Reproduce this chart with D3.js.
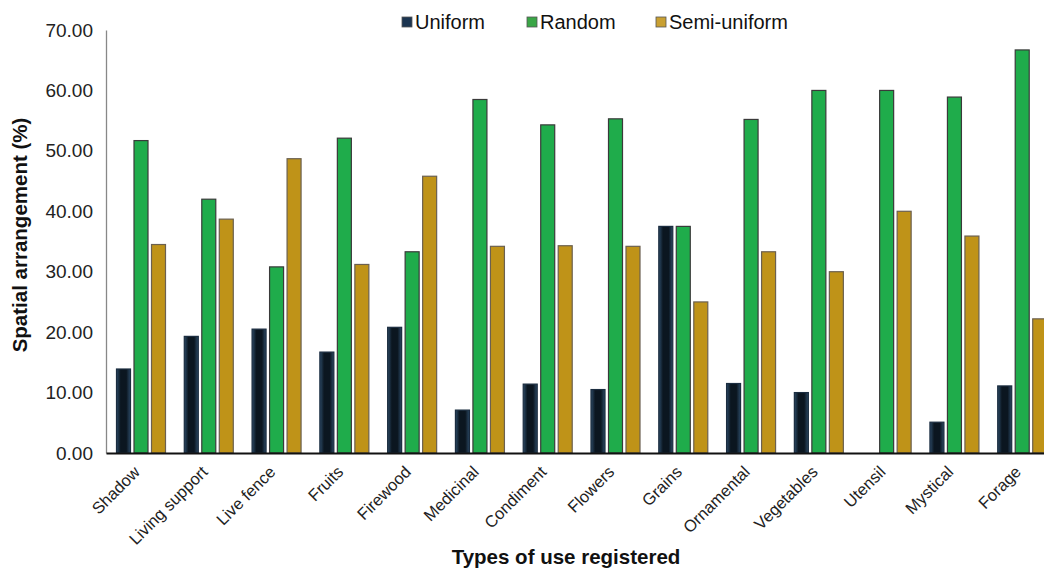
<!DOCTYPE html>
<html>
<head>
<meta charset="utf-8"/>
<script src="https://cdn.jsdelivr.net/npm/d3@7"></script>
<style>
  body { margin: 0; background: #fff; }
  text { font-family: "Liberation Sans", Arial, sans-serif; }
</style>
</head>
<body>
<div id="chart"></div>
<script>
var categories = ["Shadow", "Living support", "Live fence", "Fruits", "Firewood", "Medicinal",
  "Condiment", "Flowers", "Grains", "Ornamental", "Vegetables", "Utensil", "Mystical", "Forage"];
var seriesNames = ["Uniform", "Random", "Semi-uniform"];
var uniform = [13.9, 19.3, 20.5, 16.7, 20.8, 7.1, 11.4, 10.5, 37.5, 11.5, 10.0, 0, 5.1, 11.1];
var random = [51.7, 42.0, 30.8, 52.1, 33.3, 58.5, 54.3, 55.3, 37.5, 55.2, 60.0, 60.0, 58.9, 66.7];
var semiUniform = [34.5, 38.7, 48.7, 31.2, 45.8, 34.2, 34.3, 34.2, 25.0, 33.3, 30.0, 40.0, 35.9, 22.2];
var yTicks = [0, 10, 20, 30, 40, 50, 60, 70];

var w = 1044, h = 570;
var plotLeft = 106, plotRight = 1055, plotTop = 30, plotBottom = 453;

var svg = d3.select("#chart").append("svg").attr("width", w).attr("height", h);

// gradient for the dark bars
var defs = svg.append("defs");
var g1 = defs.append("linearGradient").attr("id", "darkGrad").attr("x1", "0").attr("x2", "1").attr("y1", "0").attr("y2", "0");
g1.append("stop").attr("offset", "0%").attr("stop-color", "#2c4a66");
g1.append("stop").attr("offset", "30%").attr("stop-color", "#0b1620");
g1.append("stop").attr("offset", "70%").attr("stop-color", "#0b1620");
g1.append("stop").attr("offset", "100%").attr("stop-color", "#2c4a66");

var fills = ["url(#darkGrad)", "#1fac4b", "#bf9318"];
var strokes = ["#1b2d40", "#3a3a3a", "#6b6050"];
var legendFills = ["#1b3450", "#3aa646", "#c9a032"];

var x0 = d3.scaleBand().domain(categories).range([plotLeft, plotRight]).paddingInner(0).paddingOuter(0);
var x1 = d3.scaleBand().domain(seriesNames).range([10.5, 10.5 + 49]).paddingInner(0.2);
var y = d3.scaleLinear().domain([0, 70]).range([plotBottom, plotTop]);

var rows = categories.map(function(c, i) {
  return { cat: c, vals: [uniform[i], random[i], semiUniform[i]] };
});

// y axis
var yAxis = svg.append("g").attr("transform", "translate(" + plotLeft + ",0)")
  .call(d3.axisLeft(y).tickValues(yTicks).tickSize(0).tickPadding(13).tickFormat(d3.format(".2f")));
yAxis.select(".domain").attr("stroke", "#888").attr("stroke-width", 1.3);
yAxis.selectAll("text").attr("font-size", 19).attr("fill", "#222").attr("font-family", "Liberation Sans, Arial, sans-serif");

// bars
var groups = svg.selectAll(".grp").data(rows).enter().append("g")
  .attr("transform", function(d) { return "translate(" + x0(d.cat) + ",0)"; });
groups.selectAll("rect").data(function(d) { return d.vals.map(function(v, k) { return { v: v, k: k }; }); })
  .enter().filter(function(d) { return d.v > 0; }).append("rect")
  .attr("x", function(d) { return x1(seriesNames[d.k]); })
  .attr("width", x1.bandwidth())
  .attr("y", function(d) { return y(d.v); })
  .attr("height", function(d) { return plotBottom - y(d.v); })
  .attr("fill", function(d) { return fills[d.k]; })
  .attr("stroke", function(d) { return strokes[d.k]; })
  .attr("stroke-width", 1.2);

// x axis
var xAxis = svg.append("g").attr("transform", "translate(0," + plotBottom + ")")
  .call(d3.axisBottom(x0).tickSize(0));
xAxis.select(".domain").attr("stroke", "#111").attr("stroke-width", 2);
xAxis.selectAll("text")
  .attr("font-size", 16.5).attr("fill", "#222").attr("font-family", "Liberation Sans, Arial, sans-serif")
  .attr("text-anchor", "end")
  .attr("x", 0).attr("y", 0).attr("dy", 0)
  .attr("transform", "translate(1,20) rotate(-45)");

// axis titles
svg.append("text").attr("x", 566).attr("y", 564).attr("text-anchor", "middle")
  .attr("font-size", 20.5).attr("font-weight", "bold").attr("fill", "#111").text("Types of use registered");
svg.append("text").attr("transform", "translate(27," + 235 + ") rotate(-90)")
  .attr("text-anchor", "middle").attr("font-size", 20.5).attr("font-weight", "bold").attr("fill", "#111")
  .text("Spatial arrangement (%)");

// legend
var legX = [402, 527, 656];
var leg = svg.selectAll(".leg").data(seriesNames).enter().append("g")
  .attr("transform", function(d, i) { return "translate(" + legX[i] + ",17)"; });
leg.append("rect").attr("width", 10).attr("height", 10)
  .attr("fill", function(d, i) { return legendFills[i]; }).attr("stroke", "#555").attr("stroke-width", 0.8);
leg.append("text").attr("x", 13).attr("y", 11.5).attr("font-size", 20).attr("fill", "#111").text(function(d) { return d; });
</script>
</body>
</html>
